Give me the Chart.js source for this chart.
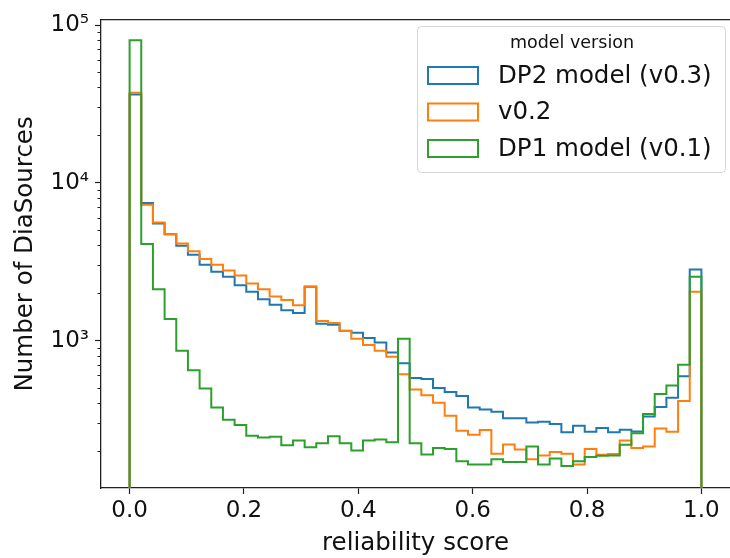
<!DOCTYPE html>
<html>
<head>
<meta charset="utf-8">
<script src="https://cdn.jsdelivr.net/npm/chart.js@4.4.0/dist/chart.umd.min.js"></script>
<style>
  html, body { margin: 0; padding: 0; background: #fff; }
  #wrap { width: 730px; height: 558px; }
</style>
</head>
<body>
<div id="wrap"><canvas id="myChart" width="730" height="558"></canvas></div>
<script>
// 49 bins between 0 and 1
const nBins = 49;
const binEdges = [];
for (let i = 0; i <= nBins; i++) binEdges.push(i / nBins);

const seriesNames = ['DP2 model (v0.3)', 'v0.2', 'DP1 model (v0.1)'];
const seriesColors = ['#1f77b4', '#ff7f0e', '#2ca02c'];

const dp2Counts = [36400, 7470, 5540, 4730, 4000, 3515, 3040, 2740, 2550, 2250,
  2045, 1838, 1695, 1563, 1503, 2198, 1283, 1265, 1160, 1127,
  1044, 976, 845, 721, 581, 573, 503, 475, 447, 378,
  367, 356, 324, 324, 304, 307, 297, 264, 290, 266,
  281, 264, 274, 267, 332, 381, 436, 596, 2830];
const v02Counts = [37250, 7290, 5620, 4730, 4140, 3690, 3300, 3040, 2790, 2596,
  2310, 2122, 1910, 1812, 1679, 2210, 1334, 1300, 1155, 1033,
  940, 866, 794, 615, 492, 453, 406, 335, 270, 254,
  273, 193, 221, 205, 178, 188, 198, 193, 165, 207,
  190, 192, 234, 210, 214, 279, 266, 416, 2046];
const dp1Counts = [80200, 4100, 2122, 1377, 866, 652, 499, 378, 316, 293,
  251, 244, 247, 218, 234, 212, 225, 249, 225, 202,
  234, 237, 228, 1033, 225, 191, 210, 207, 173, 165,
  165, 178, 171, 171, 214, 165, 180, 161, 173, 184,
  187, 188, 220, 260, 344, 461, 521, 705, 2550];

const xTicks = [0, 0.2, 0.4, 0.6, 0.8, 1.0];
const yTicks = [1000, 10000, 100000];
const yTickLabels = ['10³', '10⁴', '10⁵'];

const yMin = 117, yMax = 108000;
const inkColor = '#222';
Chart.defaults.font.family = "'DejaVu Sans', sans-serif";
Chart.defaults.color = '#111';

// outline of a step histogram, down to below the axis at both ends
function stepPoints(counts) {
  let pts = [{x: binEdges[0], y: 1}];
  counts.forEach((c, i) => pts.push({x: binEdges[i], y: c}));
  pts.push({x: binEdges[nBins], y: counts[nBins - 1]});
  pts.push({x: binEdges[nBins], y: 1});
  return pts;
}

// minor log ticks 2..9 x 10^n
let minorTicks = [];
for (let e = 2; e <= 5; e++) {
  for (let m = 2; m <= 9; m++) {
    let v = m * Math.pow(10, e);
    if (v >= yMin && v <= yMax) minorTicks.push(v);
  }
}

const allCounts = [dp2Counts, v02Counts, dp1Counts];
const datasets = allCounts.map((c, i) => ({
  label: seriesNames[i],
  data: stepPoints(c),
  borderColor: seriesColors[i],
  borderWidth: 2,
  stepped: 'before',
  pointRadius: 0,
  fill: false,
  clip: 0,
  order: 3 - i
}));

// matplotlib style framed legend in the top right corner
const legendBox = {
  id: 'legendBox',
  afterDraw(chart) {
    const ctx = chart.ctx;
    const left = 417, top = 26, w = 308, h = 146;
    ctx.save();
    ctx.beginPath();
    if (ctx.roundRect) ctx.roundRect(left + 0.5, top + 0.5, w, h, 4);
    else ctx.rect(left + 0.5, top + 0.5, w, h);
    ctx.fillStyle = 'rgba(255,255,255,0.8)';
    ctx.fill();
    ctx.strokeStyle = 'rgba(204,204,204,0.8)';
    ctx.lineWidth = 1;
    ctx.stroke();

    ctx.fillStyle = '#111';
    ctx.textBaseline = 'middle';
    ctx.textAlign = 'center';
    ctx.font = "17.5px 'DejaVu Sans'";
    ctx.fillText('model version', left + w / 2 + 1, top + 17);

    ctx.textAlign = 'left';
    ctx.font = "24.5px 'DejaVu Sans'";
    chart.data.datasets.forEach((ds, i) => {
      const cy = top + 49.5 + i * 36.5;
      ctx.strokeStyle = ds.borderColor;
      ctx.lineWidth = 2;
      ctx.strokeRect(left + 11, cy - 8.5, 50, 17);
      ctx.fillStyle = '#111';
      ctx.fillText(ds.label, left + 81, cy + 1);
    });
    ctx.restore();
  }
};

new Chart(document.getElementById('myChart'), {
  type: 'line',
  data: { datasets: datasets },
  options: {
    responsive: false,
    animation: false,
    devicePixelRatio: 1,
    layout: { padding: { top: 13, right: -7, left: 0, bottom: 0 } },
    plugins: { legend: { display: false }, tooltip: { enabled: false } },
    scales: {
      x: {
        type: 'linear', position: 'bottom', min: -0.05, max: 1.05,
        afterBuildTicks: s => { s.ticks = xTicks.map(v => ({value: v})); },
        afterFit: s => { s.height = 70; },
        ticks: { callback: v => v.toFixed(1), font: {size: 23}, padding: 3, maxRotation: 0, autoSkip: false },
        grid: { drawOnChartArea: false, tickLength: 6, tickColor: inkColor, tickWidth: 1.2 },
        border: { color: inkColor, width: 1.3 },
        title: { display: true, text: 'reliability score', font: {size: 24.5}, padding: {top: 0, bottom: 0} }
      },
      xTop: {
        type: 'linear', position: 'top', min: -0.05, max: 1.05,
        afterFit: s => { s.height = 0; },
        ticks: { display: false },
        grid: { drawOnChartArea: false, drawTicks: false },
        border: { display: true, color: inkColor, width: 1.3 }
      },
      y: {
        type: 'logarithmic', position: 'left', min: yMin, max: yMax, weight: 1,
        afterBuildTicks: s => { s.ticks = yTicks.map(v => ({value: v})); },
        afterFit: s => { s.width = 101; },
        ticks: { callback: (v, i) => yTickLabels[i], font: {size: 23}, padding: 6 },
        grid: { drawOnChartArea: false, tickLength: 6, tickColor: inkColor, tickWidth: 1.2 },
        border: { color: inkColor, width: 1.3 },
        title: { display: true, text: 'Number of DiaSources', font: {size: 24.5}, padding: {top: 11, bottom: 0} }
      },
      yMinor: {
        type: 'logarithmic', position: 'left', min: yMin, max: yMax, weight: 0,
        afterBuildTicks: s => { s.ticks = minorTicks.map(v => ({value: v})); },
        afterFit: s => { s.width = 0; },
        ticks: { display: false },
        grid: { drawOnChartArea: false, tickLength: 3.5, tickColor: inkColor, tickWidth: 1 },
        border: { display: false }
      }
    }
  },
  plugins: [legendBox]
});
</script>
</body>
</html>
